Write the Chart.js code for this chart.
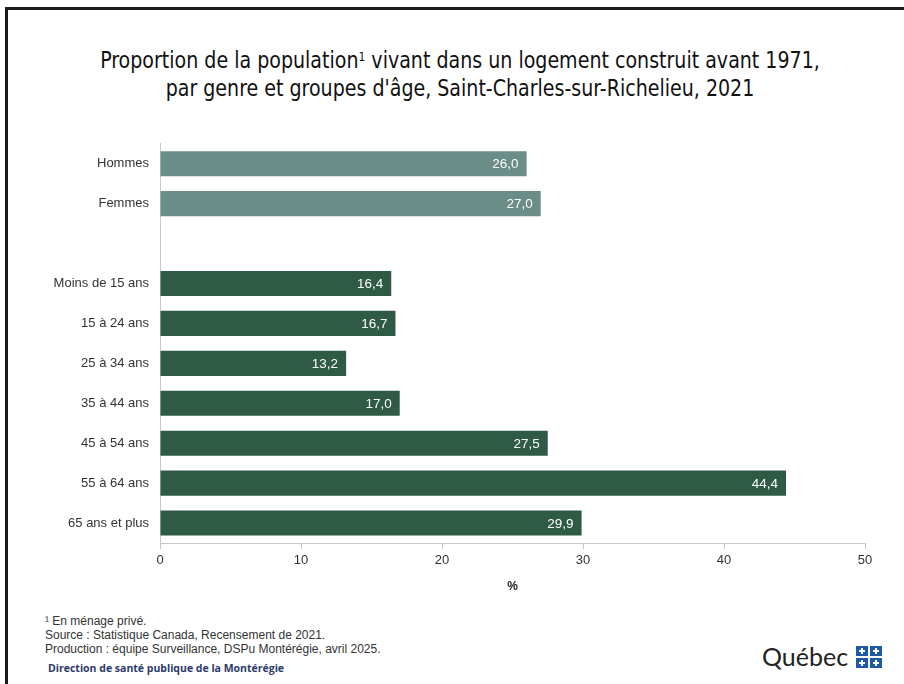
<!DOCTYPE html>
<html lang="fr">
<head>
<meta charset="utf-8">
<script src="https://cdn.jsdelivr.net/npm/chart.js@4"></script>
<style>
  html, body { margin:0; padding:0; background:#fff; }
  #page { position:relative; width:904px; height:684px; overflow:hidden; background:#fff; }
  #frame { position:absolute; left:5px; top:7px; width:940px; height:720px; border:3px solid #1a1a1a; box-sizing:border-box; }
  #title { position:absolute; left:8px; top:46px; width:904px; text-align:center;
    font-family:"Liberation Sans Narrow","DejaVu Sans Condensed","Roboto",sans-serif;
    font-size:23px; line-height:28px; color:#111; transform:scaleX(0.92); transform-origin:452px 0; }
  #title sup { font-size:13px; vertical-align:7px; line-height:0; }
  #wrap { position:absolute; left:0; top:125px; width:904px; height:475px; }
  #notes { position:absolute; left:45px; top:614px; font-family:"Liberation Sans",Arial,sans-serif;
    font-size:12px; line-height:14px; color:#333; }
  #dir { position:absolute; left:48px; top:661px; font-family:"Open Sans",sans-serif; font-weight:700;
    font-size:10.5px; color:#2c3a6b; }
  #logo { position:absolute; left:762px; top:641px; font-family:"Lato","Open Sans",sans-serif; font-size:25px; color:#222; }
  #flag { position:absolute; left:856px; top:646px; width:26px; height:22px; }
  #flag div { position:absolute; width:12px; height:10px; background:#1c5aa8; }
  #flag div::before { content:""; position:absolute; left:5px; top:2px; width:2px; height:6px; background:#fff; }
  #flag div::after { content:""; position:absolute; left:3px; top:4px; width:6px; height:2px; background:#fff; }
</style>
</head>
<body>
<div id="page">
  <div id="frame"></div>
  <div id="title">Proportion de la population<sup>1</sup> vivant dans un logement construit avant 1971,<br>par genre et groupes d'âge, Saint-Charles-sur-Richelieu, 2021</div>
  <div id="wrap"><canvas id="chart" width="904" height="475"></canvas></div>
  <div id="notes">¹ En ménage privé.<br>Source : Statistique Canada, Recensement de 2021.<br>Production : équipe Surveillance, DSPu Montérégie, avril 2025.</div>
  <div id="dir">Direction de santé publique de la Montérégie</div>
  <div id="logo">Québec</div>
  <div id="flag"><div style="left:0;top:0"></div><div style="left:14px;top:0"></div><div style="left:0;top:12px"></div><div style="left:14px;top:12px"></div></div>
</div>
<script>
(() => {
  // data
  const categories = ["Hommes", "Femmes", "", "Moins de 15 ans", "15 à 24 ans", "25 à 34 ans",
    "35 à 44 ans", "45 à 54 ans", "55 à 64 ans", "65 ans et plus"];
  const values = [26.0, 27.0, null, 16.4, 16.7, 13.2, 17.0, 27.5, 44.4, 29.9];
  const groups = ["genre", "genre", null, "age", "age", "age", "age", "age", "age", "age"];
  const xTicks = [0, 10, 20, 30, 40, 50];

  const COLOR_GENRE = "#6a8d87";
  const COLOR_AGE = "#2f5a45";
  const fmt = (v) => v.toFixed(1).replace(".", ",");

  // white value labels at the bar end
  const valueLabels = {
    id: "valueLabels",
    afterDatasetsDraw(chart) {
      const ctx = chart.ctx;
      const meta = chart.getDatasetMeta(0);
      ctx.save();
      ctx.font = "13.5px 'Liberation Sans', Arial, sans-serif";
      ctx.fillStyle = "#fff";
      ctx.textAlign = "right";
      ctx.textBaseline = "middle";
      meta.data.forEach((bar, i) => {
        if (values[i] === null) return;
        ctx.fillText(fmt(values[i]), bar.x - 8, bar.y + 1);
      });
      ctx.restore();
    }
  };

  new Chart(document.getElementById("chart"), {
    type: "bar",
    data: {
      labels: categories,
      datasets: [{
        data: values,
        backgroundColor: groups.map(g => g === "genre" ? COLOR_GENRE : COLOR_AGE),
        borderWidth: 0,
        barPercentage: 0.63,
        categoryPercentage: 1
      }]
    },
    options: {
      indexAxis: "y",
      responsive: false,
      animation: false,
      layout: { padding: { left: 0, right: 39, top: 8, bottom: 0 } },
      plugins: { legend: { display: false }, tooltip: { enabled: false } },
      scales: {
        x: {
          min: 0, max: 50,
          afterBuildTicks: (s) => { s.ticks = xTicks.map(v => ({ value: v })); },
          afterFit: (s) => { s.height = 57; },
          grid: { drawOnChartArea: false, drawTicks: true, tickLength: 6, color: "#c8c8c8" },
          border: { color: "#c8c8c8", width: 1 },
          ticks: { color: "#333", padding: 4, font: { family: "'Liberation Sans',sans-serif", size: 13 } },
          title: { display: true, text: "%", color: "#222", padding: { top: 1, bottom: 6 },
            font: { family: "'Liberation Sans',sans-serif", size: 12, weight: "bold" } }
        },
        y: {
          afterFit: (s) => { s.width = 160; },
          grid: { drawOnChartArea: false, drawTicks: false },
          border: { color: "#c8c8c8", width: 1 },
          ticks: { color: "#333", padding: 11, font: { family: "'Liberation Sans',Arial,sans-serif", size: 13 } }
        }
      }
    },
    plugins: [valueLabels]
  });
})();
</script>
</body>
</html>
